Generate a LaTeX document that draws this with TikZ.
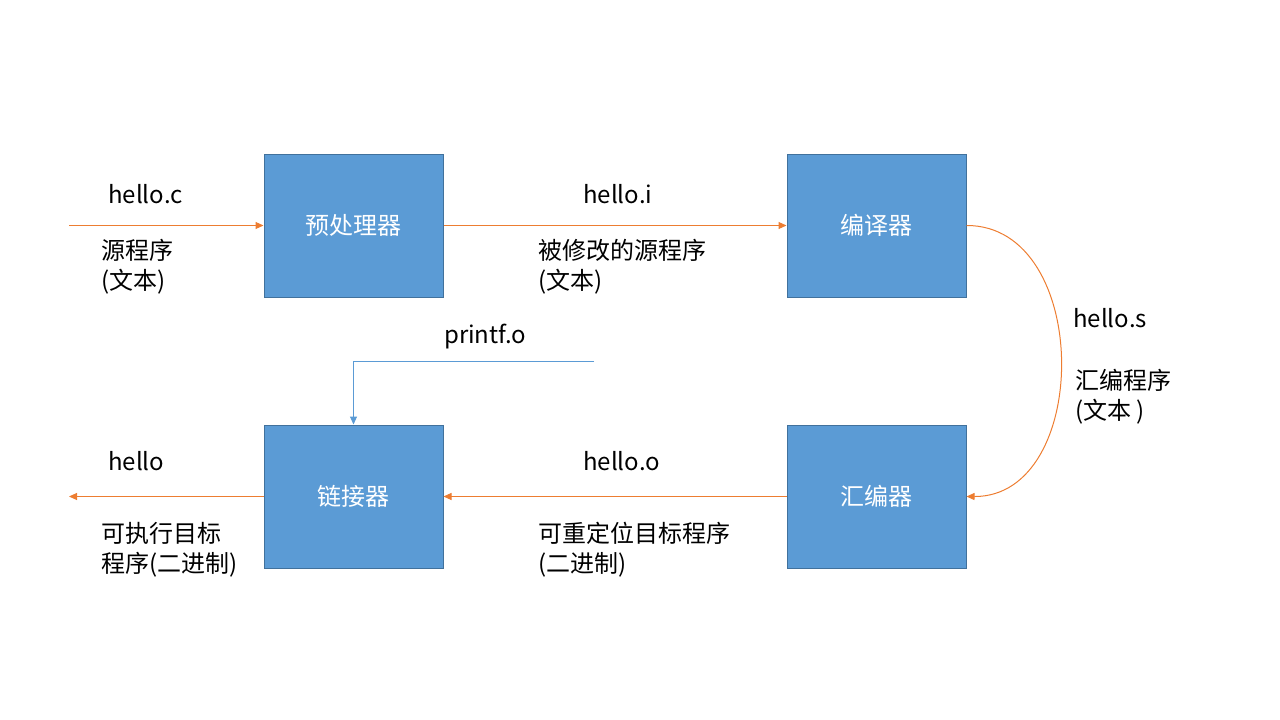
\documentclass[tikz,border=0pt]{standalone}
\usepackage{fontspec}
\setmainfont{Noto Sans CJK SC}
\usetikzlibrary{arrows.meta}
\definecolor{boxfill}{HTML}{5B9BD5}
\definecolor{boxline}{HTML}{41719C}
\definecolor{arr}{HTML}{ED7D31}
\tikzset{
  stage/.style={draw=boxline, fill=boxfill, line width=1pt, minimum width=179pt, minimum height=143pt, inner sep=0pt, text=white, font=\fontsize{24}{30}\selectfont},
  lbl/.style={anchor=west, inner sep=0pt, align=left, text=black, font=\fontsize{24}{30}\selectfont},
  flow/.style={draw=arr, line width=1pt, -{Triangle[length=8pt,width=7pt]}},
  side/.style={draw=boxfill, line width=1pt, -{Triangle[length=8pt,width=7pt]}}
}
\begin{document}
\begin{tikzpicture}[x=1pt,y=-1pt]
\useasboundingbox (0,0) rectangle (1280,720);
\node[stage] (pre) at (353.5,225.5) {预处理器};
\node[stage] (comp) at (876.5,225.5) {编译器};
\node[stage] (link) at (353.5,496.5) {链接器};
\node[stage] (asm) at (876.5,496.5) {汇编器};
\coordinate (in) at (69,225.5);
\coordinate (out) at (69,496.5);
\coordinate (pf) at (594,361);
\draw[flow] (in) -- (pre.west);
\draw[flow] (pre.east) -- (comp.east -| comp.west);
\draw[flow] (comp.east) .. controls (1092,225) and (1092,497) .. (asm.east);
\draw[flow] (asm.west) -- (link.east);
\draw[flow] (link.west) -- (out);
\draw[side] (pf) -| (link.north);
\node[lbl] (t1) at (108,194) {hello.c};
\node[lbl] (t2) at (101,266.5) {源程序\\(文本)};
\node[lbl] (t3) at (583,194) {hello.i};
\node[lbl] (t4) at (538,266.5) {被修改的源程序\\(文本)};
\node[lbl] (t5) at (1073,318) {hello.s};
\node[lbl] (t6) at (1075,397) {汇编程序\\(文本 )};
\node[lbl] (t7) at (444,337) {printf.o};
\node[lbl] (t8) at (108,461) {hello};
\node[lbl] (t9) at (101,550) {可执行目标\\程序(二进制)};
\node[lbl] (t10) at (583,461) {hello.o};
\node[lbl] (t11) at (538,550) {可重定位目标程序\\(二进制)};
\end{tikzpicture}
\end{document}
